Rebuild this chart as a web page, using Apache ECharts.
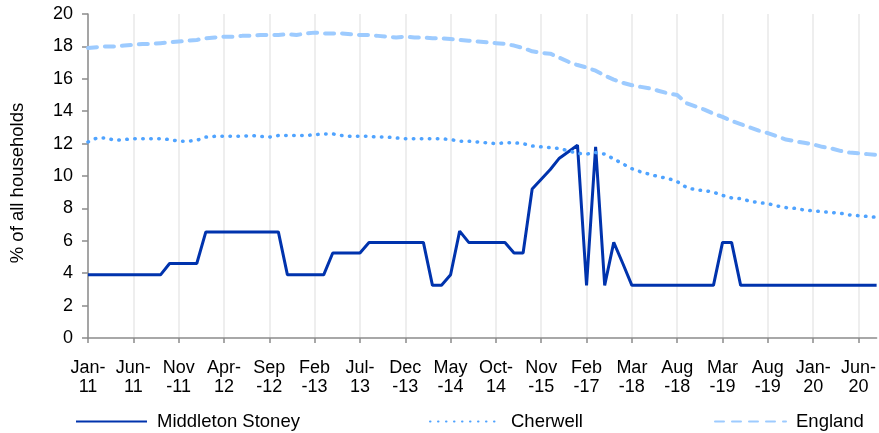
<!DOCTYPE html>
<html>
<head>
<meta charset="utf-8">
<script src="https://cdn.jsdelivr.net/npm/echarts@6/dist/echarts.min.js"></script>
<style>
  html, body { margin: 0; padding: 0; background: #fff; }
  #chart { width: 879px; height: 433px; }
</style>
</head>
<body>
<div id="chart"></div>
<script>
// dates of each observation (irregular spacing 2015-2019)
var categories = [
  'Jan-11', 'Feb-11', 'Mar-11', 'Apr-11', 'May-11', 'Jun-11', 'Jul-11', 'Aug-11', 'Sep-11', 'Oct-11', 'Nov-11', 'Dec-11',
  'Jan-12', 'Feb-12', 'Mar-12', 'Apr-12', 'May-12', 'Jun-12', 'Jul-12', 'Aug-12', 'Sep-12', 'Oct-12', 'Nov-12', 'Dec-12',
  'Jan-13', 'Feb-13', 'Mar-13', 'Apr-13', 'May-13', 'Jun-13', 'Jul-13', 'Aug-13', 'Sep-13', 'Oct-13', 'Nov-13', 'Dec-13',
  'Jan-14', 'Feb-14', 'Mar-14', 'Apr-14', 'May-14', 'Jun-14', 'Jul-14', 'Aug-14', 'Sep-14', 'Oct-14',
  'Jan-15', 'Apr-15', 'Jul-15', 'Sep-15', 'Nov-15',
  'Feb-16', 'May-16', 'Aug-16', 'Nov-16', 'Feb-17',
  'May-17', 'Aug-17', 'Nov-17', 'Jan-18', 'Mar-18',
  'Apr-18', 'May-18', 'Jun-18', 'Jul-18', 'Aug-18',
  'Oct-18', 'Nov-18', 'Dec-18', 'Feb-19', 'Mar-19',
  'Apr-19', 'May-19', 'Jun-19', 'Jul-19', 'Aug-19', 'Sep-19', 'Oct-19', 'Nov-19', 'Dec-19',
  'Jan-20', 'Feb-20', 'Mar-20', 'Apr-20', 'May-20', 'Jun-20', 'Jul-20', 'Aug-20'
]

var middletonStoney = [
  3.9, 3.9, 3.9, 3.9, 3.9, 3.9, 3.9, 3.9, 3.9,
  4.6, 4.6, 4.6, 4.6,
  6.55, 6.55, 6.55, 6.55, 6.55, 6.55, 6.55, 6.55, 6.55,
  3.9, 3.9, 3.9, 3.9, 3.9,
  5.25, 5.25, 5.25, 5.25,
  5.9, 5.9, 5.9, 5.9, 5.9, 5.9, 5.9,
  3.25, 3.25, 3.9, 6.6,
  5.9, 5.9, 5.9, 5.9, 5.9,
  5.25, 5.25,
  9.2, 9.8, 10.4, 11.1, 11.5, 11.9,
  3.25, 11.8, 3.25, 5.9, 4.6,
  3.25, 3.25, 3.25, 3.25, 3.25, 3.25, 3.25, 3.25, 3.25, 3.25,
  5.9, 5.9,
  3.25, 3.25, 3.25, 3.25, 3.25, 3.25, 3.25, 3.25, 3.25, 3.25, 3.25, 3.25, 3.25, 3.25, 3.25, 3.25
]

var cherwell = [
  12.1, 12.35, 12.35, 12.2, 12.25, 12.3, 12.3, 12.3, 12.3, 12.25,
  12.15, 12.15, 12.2, 12.4, 12.45, 12.45, 12.45, 12.45, 12.5, 12.45,
  12.4, 12.5, 12.5, 12.5, 12.5, 12.55, 12.6, 12.6, 12.5, 12.45,
  12.45, 12.45, 12.4, 12.4, 12.35, 12.3, 12.3, 12.3, 12.3, 12.3,
  12.25, 12.15, 12.15, 12.1, 12.05, 12.0, 12.05, 12.05, 12.0, 11.85,
  11.8, 11.75, 11.7, 11.55, 11.4, 11.35, 11.45, 11.35, 11.05, 10.75,
  10.45, 10.25, 10.1, 9.95, 9.85, 9.65, 9.3, 9.15, 9.1, 9.0,
  8.8, 8.65, 8.6, 8.45, 8.35, 8.3, 8.15, 8.05, 8.0, 7.9,
  7.85, 7.8, 7.75, 7.7, 7.6, 7.55, 7.5, 7.45
]

var england = [
  17.9, 17.95, 18.0, 18.0, 18.05, 18.1, 18.15, 18.15, 18.2, 18.25,
  18.3, 18.35, 18.4, 18.5, 18.55, 18.6, 18.6, 18.65, 18.65, 18.7,
  18.7, 18.7, 18.75, 18.7, 18.8, 18.85, 18.8, 18.8, 18.8, 18.75,
  18.7, 18.7, 18.65, 18.6, 18.55, 18.6, 18.55, 18.55, 18.5, 18.5,
  18.45, 18.4, 18.35, 18.3, 18.25, 18.2, 18.15, 18.05, 17.9, 17.7,
  17.6, 17.55, 17.3, 17.05, 16.85, 16.7, 16.5, 16.2, 15.95, 15.75,
  15.6, 15.5, 15.4, 15.25, 15.1, 15.0, 14.5, 14.3, 14.1, 13.85,
  13.65, 13.4, 13.2, 13.0, 12.8, 12.65, 12.45, 12.25, 12.15, 12.05,
  11.95, 11.8, 11.7, 11.55, 11.45, 11.4, 11.35, 11.3
]

// months whose label wraps before the hyphen ("Nov\n-11")
var wideMonths = ['Nov', 'Sep', 'Feb', 'Dec', 'May', 'Mar', 'Aug']

var font = 'Liberation Sans, Arial, sans-serif'
var chart = echarts.init(document.getElementById('chart'))

function legendFor(name, left) {
  return {
    data: [name],
    left: left,
    top: 412,
    padding: 0,
    itemWidth: 71,
    itemHeight: 14,
    itemStyle: { opacity: 0 },
    textStyle: { fontFamily: font, fontSize: 18.5, color: '#000', padding: [0, 0, 0, 5] }
  }
}

chart.setOption({
  animation: false,
  textStyle: { fontFamily: font },
  grid: { left: 88, right: 1, top: 14, bottom: 95 },
  legend: [
    legendFor('Middleton Stoney', 75),
    legendFor('Cherwell', 429),
    legendFor('England', 714)
  ],
  xAxis: {
    type: 'category',
    boundaryGap: false,
    data: categories,
    axisLine: { lineStyle: { color: '#8c8c8c', width: 1.5 } },
    axisTick: { interval: 4, length: 5, lineStyle: { color: '#8c8c8c', width: 1.5 } },
    splitLine: { show: true, interval: 4, lineStyle: { color: '#e8e8e8', width: 1.5 } },
    axisLabel: {
      interval: 4,
      margin: 21,
      fontFamily: font,
      fontSize: 18,
      lineHeight: 19,
      color: '#000',
      formatter: function (v) {
        var parts = v.split('-')
        if (wideMonths.indexOf(parts[0]) >= 0) {
          return parts[0] + '\n-' + parts[1]
        }
        return parts[0] + '-\n' + parts[1]
      }
    }
  },
  yAxis: {
    type: 'value',
    min: 0,
    max: 20,
    interval: 2,
    name: '% of all households',
    nameLocation: 'middle',
    nameGap: 61,
    nameTextStyle: { fontFamily: font, fontSize: 18.5, color: '#000', padding: [0, 14, 0, 0] },
    axisLine: { show: true, lineStyle: { color: '#8c8c8c', width: 1.5 } },
    axisTick: { show: true, length: 6, lineStyle: { color: '#8c8c8c', width: 1.5 } },
    splitLine: { show: false },
    axisLabel: { margin: 15, fontFamily: font, fontSize: 18, color: '#000' }
  },
  series: [
    {
      name: 'Middleton Stoney',
      type: 'line',
      data: middletonStoney,
      symbol: 'none',
      itemStyle: { color: '#0033ad' },
      lineStyle: { color: '#0033ad', width: 3 }
    },
    {
      name: 'Cherwell',
      type: 'line',
      data: cherwell,
      symbol: 'none',
      itemStyle: { color: '#4fa3ff' },
      lineStyle: { color: '#4fa3ff', width: 3.5, type: [0.5, 7.5], cap: 'round' }
    },
    {
      name: 'England',
      type: 'line',
      data: england,
      symbol: 'none',
      itemStyle: { color: '#9dcbff' },
      lineStyle: { color: '#9dcbff', width: 4, type: [9, 8], cap: 'round' }
    }
  ]
})
</script>
</body>
</html>
